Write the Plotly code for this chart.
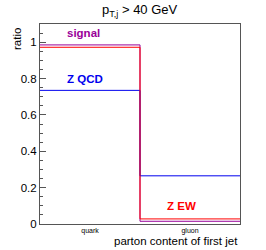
import plotly.graph_objects as go

categories = ["quark", "gluon"]
signal = [0.985, 0.015]
z_qcd = [0.735, 0.265]
z_ew = [0.972, 0.028]

series = [
    ("signal", signal, "#990099"),
    ("Z QCD", z_qcd, "#0000ee"),
    ("Z EW", z_ew, "#ff0000"),
]

edges = list(range(len(categories) + 1))
centers = [i + 0.5 for i in range(len(categories))]

fig = go.Figure()
for name, vals, col in series:
    fig.add_trace(go.Scatter(
        x=edges, y=vals + [vals[-1]], mode="lines", line_shape="hv",
        line=dict(color=col, width=1), name=name, showlegend=False,
        hoverinfo="skip"))

font = "Liberation Sans, Arial, sans-serif"
fig.update_layout(
    width=266, height=250,
    margin=dict(l=40, r=26, t=24, b=26),
    paper_bgcolor="white", plot_bgcolor="white",
    font=dict(family=font, color="black"),
    xaxis=dict(range=[0, 2], tickvals=centers, ticktext=categories,
               ticks="", showgrid=False, zeroline=False,
               showline=True, linecolor="#555", linewidth=1, mirror=True,
               tickfont=dict(size=7), ticklabelstandoff=0),
    yaxis=dict(range=[0, 1.1], dtick=0.2, tick0=0, ticks="inside",
               ticklen=6, tickcolor="#555", tickwidth=1,
               minor=dict(dtick=0.05, ticks="inside", ticklen=3, tickcolor="#555"),
               showgrid=False, zeroline=False,
               showline=True, linecolor="#555", linewidth=1, mirror=True,
               tickfont=dict(size=11.5)),
    annotations=[
        dict(text="p<sub>T,j</sub> > 40 GeV", x=0.5, xref="paper", y=1.0,
             yref="paper", yshift=14, xanchor="center", yanchor="middle",
             showarrow=False, font=dict(size=13)),
        dict(text="ratio", textangle=-90, x=-0.115, xref="paper", y=0.99,
             yref="paper", xanchor="center", yanchor="top", showarrow=False,
             font=dict(size=11.5)),
        dict(text="parton content of first jet", x=1.0, xref="paper",
             y=-0.085, yref="paper", xanchor="right", yanchor="middle",
             showarrow=False, font=dict(size=11.5)),
        dict(text="<b>signal</b>", x=0.25, y=1.05, xanchor="left",
             yanchor="middle", showarrow=False,
             font=dict(size=11.5, color="#990099")),
        dict(text="<b>Z QCD</b>", x=0.25, y=0.80, xanchor="left",
             yanchor="middle", showarrow=False,
             font=dict(size=11.5, color="#0000ee")),
        dict(text="<b>Z EW</b>", x=1.25, y=0.10, xanchor="left",
             yanchor="middle", showarrow=False,
             font=dict(size=11.5, color="#ff0000")),
    ],
)

fig.write_html("out.html", config={"displayModeBar": False},
               post_script="document.body.style.margin='0';")
